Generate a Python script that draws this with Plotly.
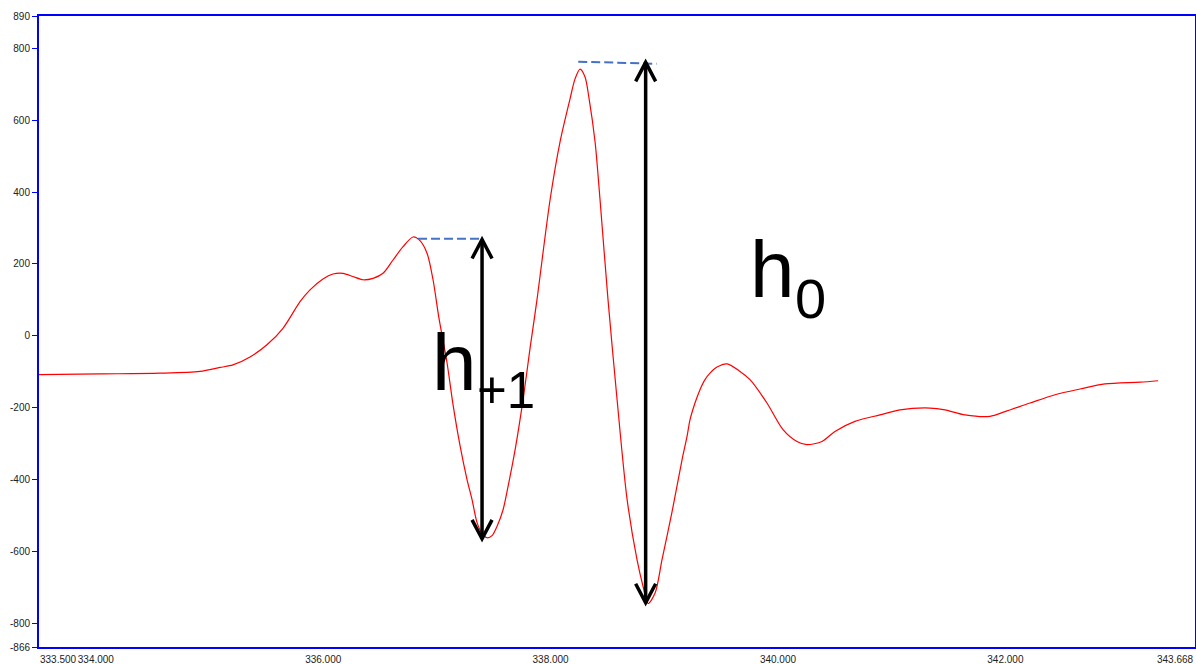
import plotly.graph_objects as go

# Waveform samples (time axis, amplitude)
t = [333.500, 334.037, 334.564, 334.916, 335.092, 335.206, 335.356, 335.505,
     335.646, 335.796, 335.884, 335.998, 336.086, 336.174, 336.262, 336.350,
     336.438, 336.526, 336.614, 336.702, 336.790, 336.851, 336.913, 336.966,
     337.018, 337.089, 337.141, 337.203, 337.265, 337.309, 337.353, 337.397,
     337.441, 337.485, 337.529, 337.582, 337.626, 337.688, 337.759, 337.819,
     337.880, 337.995, 338.083, 338.172, 338.215, 338.259, 338.303, 338.338,
     338.391, 338.435, 338.505, 338.584, 338.672, 338.760, 338.813, 338.857,
     338.919, 338.980, 339.068, 339.156, 339.200, 339.226, 339.270, 339.314,
     339.358, 339.402, 339.464, 339.552, 339.666, 339.754, 339.903, 340.044,
     340.167, 340.255, 340.387, 340.501, 340.677, 340.897, 341.073, 341.337,
     341.469, 341.645, 341.865, 341.997, 342.217, 342.437, 342.657, 342.877,
     343.185, 343.343]
amp = [-108, -106, -104, -99, -88, -81, -59, -25,
       21, 95, 128, 158, 172, 174, 165, 156,
       160, 174, 211, 248, 275, 265, 230, 156,
       49, -75, -190, -305, -400, -456, -520, -550,
       -562, -556, -530, -484, -419, -317, -175, -35,
       100, 378, 540, 661, 715, 742, 720, 661,
       540, 378, 100, -175, -453, -623, -697, -745,
       -716, -623, -490, -345, -280, -234, -187, -150,
       -122, -104, -87, -78, -99, -122, -187, -261,
       -294, -303, -294, -266, -238, -220, -206, -201,
       -206, -220, -224, -211, -187, -164, -148, -134,
       -129, -125]

# Axis ticks
x_ticks = [333.5, 334.0, 336.0, 338.0, 340.0, 342.0, 343.668]
y_ticks = [890, 800, 600, 400, 200, 0, -200, -400, -600, -800, -866]

# Wave heights: arrow position, crest level and trough level
h1_x, h1_top, h1_bottom = 337.397, 268, -565
h0_x, h0_top, h0_bottom = 338.836, 761, -743
# Crest reference lines (start x, end x, start level, end level)
crest1 = (336.834, 337.400, 270, 270)
crest0 = (338.243, 338.933, 763, 757)

BLUE = "#0000ff"
FONT = "Liberation Sans, Arial"
tick_font = dict(family=FONT, size=10, color="#222222")

fig = go.Figure()
fig.add_trace(go.Scatter(
    x=t, y=amp, mode="lines",
    line=dict(color="#ff0000", width=1.2, shape="spline", smoothing=0.8),
    hoverinfo="skip", showlegend=False,
))

# Crest reference lines
for x0, x1, y0, y1 in (crest1, crest0):
    fig.add_shape(type="line", x0=x0, x1=x1, y0=y0, y1=y1, xref="x", yref="y",
                  line=dict(color="#4472c4", width=2, dash="9px,4px"))

# Double-headed height arrows
for ax, top, bottom in ((h1_x, h1_top, h1_bottom), (h0_x, h0_top, h0_bottom)):
    fig.add_shape(type="line", x0=ax, x1=ax, y0=bottom, y1=top, xref="x", yref="y",
                  line=dict(color="black", width=3.5))
    fig.add_shape(type="path", xref="x", yref="y", xsizemode="pixel", ysizemode="pixel",
                  xanchor=ax, yanchor=top, path="M -10,-19 L 0,0 L 10,-19",
                  line=dict(color="black", width=3.5))
    fig.add_shape(type="path", xref="x", yref="y", xsizemode="pixel", ysizemode="pixel",
                  xanchor=ax, yanchor=bottom, path="M -10,19 L 0,0 L 10,19",
                  line=dict(color="black", width=3.5))

# Height labels: a large "h" followed by a lowered, smaller subscript
H_SIZE = 80
H_ADVANCE = 45  # width of the "h" box in pixels at H_SIZE
labels = [
    # (subscript, label x, "h" level, subscript level, subscript size)
    ("0", 339.754, 185, 103, 56),
    ("+1", 336.957, -73, -152, 51),
]
for sub, lx, hy, sy, ssize in labels:
    fig.add_annotation(x=lx, y=hy, xref="x", yref="y", text="h", showarrow=False,
                       xanchor="left", yanchor="middle", borderpad=0, borderwidth=0,
                       font=dict(family=FONT, size=H_SIZE, color="black"))
    fig.add_annotation(x=lx, y=sy, xref="x", yref="y", text=sub, showarrow=False,
                       xanchor="left", yanchor="middle", borderpad=0, borderwidth=0,
                       xshift=H_ADVANCE,
                       font=dict(family=FONT, size=ssize, color="black"))

# Edge tick labels aligned inside the axis span
fig.add_annotation(x=x_ticks[0], y=y_ticks[-1], xref="x", yref="y", text=f"{x_ticks[0]:.3f}",
                   showarrow=False, xanchor="left", yanchor="top", yshift=-5, xshift=-1,
                   font=tick_font)
fig.add_annotation(x=x_ticks[-1], y=y_ticks[-1], xref="x", yref="y", text=f"{x_ticks[-1]:.3f}",
                   showarrow=False, xanchor="right", yanchor="top", yshift=-5, xshift=1,
                   font=tick_font)

inner_x = x_ticks[1:-1]

fig.update_layout(
    width=1196, height=664,
    margin=dict(l=39, r=1, t=16, b=17, autoexpand=False),
    paper_bgcolor="white", plot_bgcolor="white",
    xaxis=dict(range=[x_ticks[0], x_ticks[-1]], tickvals=inner_x,
               ticktext=[f"{v:.3f}" for v in inner_x],
               showgrid=False, zeroline=False, showline=True, mirror=True,
               linecolor=BLUE, linewidth=2, ticks="", ticklabelstandoff=2,
               tickfont=tick_font, automargin=False),
    xaxis2=dict(range=[x_ticks[0], x_ticks[-1]], tickvals=x_ticks, overlaying="x",
                anchor="y", side="bottom", showticklabels=False, showgrid=False,
                zeroline=False, showline=False, ticks="outside", ticklen=5,
                tickcolor=BLUE, tickwidth=1),
    yaxis=dict(range=[y_ticks[-1], y_ticks[0]], tickvals=y_ticks,
               ticktext=[str(v) for v in y_ticks],
               showgrid=False, zeroline=False, showline=True, mirror=True,
               linecolor=BLUE, linewidth=2, ticks="outside", ticklen=5,
               tickcolor=BLUE, tickwidth=1, tickfont=tick_font, automargin=False),
    yaxis2=dict(range=[y_ticks[-1], y_ticks[0]], tickvals=y_ticks, overlaying="y",
                anchor="x", side="left", showticklabels=False, showgrid=False,
                zeroline=False, showline=False, ticks="inside", ticklen=4,
                tickcolor=BLUE, tickwidth=1),
)

fig.write_html("out.html")
